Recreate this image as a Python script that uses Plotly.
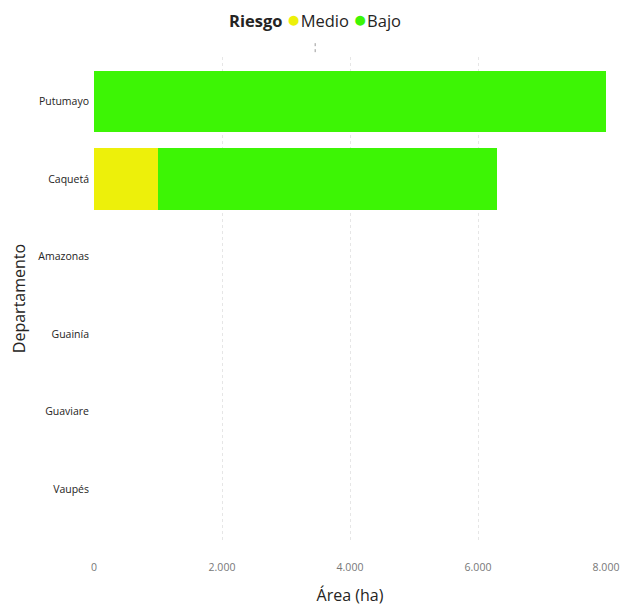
import plotly.graph_objects as go

departamentos = ["Putumayo", "Caquetá", "Amazonas", "Guainía", "Guaviare", "Vaupés"]
medio = [0, 1000, 0, 0, 0, 0]
bajo = [7995, 5300, 0, 0, 0, 0]
xticks = [0, 2000, 4000, 6000, 8000]
xticklabels = ["0", "2.000", "4.000", "6.000", "8.000"]

c_medio = "#EDF00A"
c_bajo = "#3DF505"
font = "Open Sans"

fig = go.Figure()
fig.add_trace(go.Bar(y=departamentos, x=medio, orientation="h", marker_color=c_medio,
                     marker_line_width=0, name="Medio", showlegend=False, width=0.79))
fig.add_trace(go.Bar(y=departamentos, x=bajo, orientation="h", marker_color=c_bajo,
                     marker_line_width=0, name="Bajo", showlegend=False, width=0.79))

legend_text = ("<b>Riesgo</b> <span style='color:%s;font-size:23px'>●</span>Medio "
               "<span style='color:%s;font-size:23px'>●</span>Bajo") % (c_medio, c_bajo)

fig.update_layout(
    width=626, height=606,
    margin=dict(l=94, r=20, t=57, b=66, autoexpand=False),
    barmode="stack",
    showlegend=False,
    plot_bgcolor="white", paper_bgcolor="white",
    font=dict(family=font, color="#252423"),
    xaxis=dict(range=[0, 8000], tickvals=xticks, ticktext=xticklabels,
               showgrid=True, gridcolor="#E6E6E6", griddash="dot", gridwidth=1,
               zeroline=False, showline=False, automargin=False,
               tickfont=dict(size=10.5, color="#777777"), ticklabelstandoff=19,
               title=dict(text="Área (ha)", font=dict(size=16, color="#252423"), standoff=22)),
    yaxis=dict(categoryorder="array", categoryarray=departamentos, automargin=False,
               range=[5.66, -0.574], showgrid=False, zeroline=False, showline=False,
               tickfont=dict(size=10.5, color="#252423"), ticklabelstandoff=4,
               title=dict(text="Departamento", font=dict(size=16, color="#252423"), standoff=8)),
    annotations=[dict(text=legend_text, xref="paper", yref="paper", x=0.432, y=1.0,
                      yshift=39, xanchor="center", yanchor="middle", showarrow=False,
                      font=dict(size=16.5, color="#252423", family=font))],
)
fig.add_shape(type="line", xref="paper", yref="paper", x0=0.432, x1=0.432, y0=1.01, y1=1.03,
              line=dict(color="#999999", width=1, dash="dot"))

fig.write_html("out.html")
